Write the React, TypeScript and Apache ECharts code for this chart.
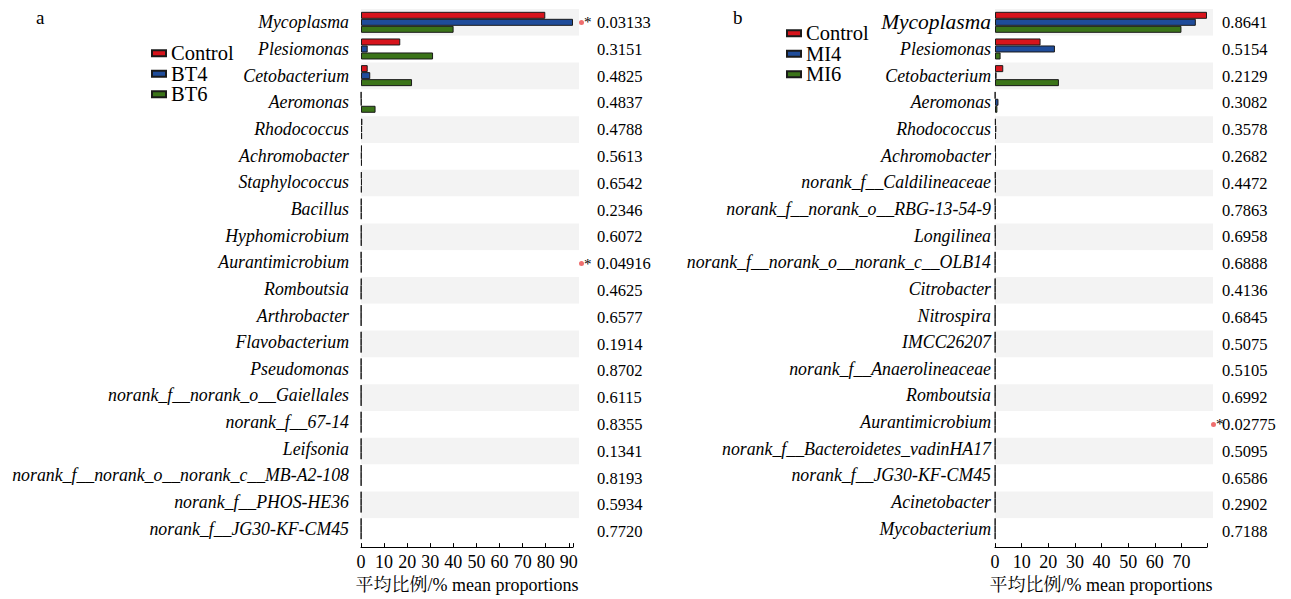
import React, { useEffect, useRef } from "react";
import * as echarts from "echarts";

const SERIF = "'Liberation Serif', 'Times New Roman', 'Noto Serif CJK SC', 'Noto Sans CJK SC', serif";

// ---------- Panel a ----------
const categoriesA = [
  "Mycoplasma", "Plesiomonas", "Cetobacterium", "Aeromonas", "Rhodococcus",
  "Achromobacter", "Staphylococcus", "Bacillus", "Hyphomicrobium", "Aurantimicrobium",
  "Romboutsia", "Arthrobacter", "Flavobacterium", "Pseudomonas", "norank_f__norank_o__Gaiellales",
  "norank_f__67-14", "Leifsonia", "norank_f__norank_o__norank_c__MB-A2-108", "norank_f__PHOS-HE36", "norank_f__JG30-KF-CM45",
];
const controlA = [79.8, 17.0, 2.9, 0.1, 0.6, 0.4, 0.3, 0.2, 0.2, 0.1, 0.2, 0.1, 0.1, 0.1, 0.1, 0.1, 0.1, 0.1, 0.1, 0.1];
const bt4A = [91.8, 2.9, 4.0, 0.2, 0.5, 0.3, 0.4, 0.2, 0.2, 0.2, 0.1, 0.1, 0.1, 0.1, 0.1, 0.1, 0.1, 0.1, 0.1, 0.1];
const bt6A = [40.1, 31.2, 22.1, 6.3, 0.5, 0.4, 0.3, 0.2, 0.2, 0.2, 0.1, 0.1, 0.1, 0.1, 0.1, 0.1, 0.1, 0.1, 0.1, 0.1];
const pValuesA = [
  "0.03133", "0.3151", "0.4825", "0.4837", "0.4788", "0.5613", "0.6542", "0.2346", "0.6072", "0.04916",
  "0.4625", "0.6577", "0.1914", "0.8702", "0.6115", "0.8355", "0.1341", "0.8193", "0.5934", "0.7720",
];
const seriesNamesA = ["Control", "BT4", "BT6"];
const xMaxA = 91.8;

// ---------- Panel b ----------
const categoriesB = [
  "Mycoplasma", "Plesiomonas", "Cetobacterium", "Aeromonas", "Rhodococcus",
  "Achromobacter", "norank_f__Caldilineaceae", "norank_f__norank_o__RBG-13-54-9", "Longilinea", "norank_f__norank_o__norank_c__OLB14",
  "Citrobacter", "Nitrospira", "IMCC26207", "norank_f__Anaerolineaceae", "Romboutsia",
  "Aurantimicrobium", "norank_f__Bacteroidetes_vadinHA17", "norank_f__JG30-KF-CM45", "Acinetobacter", "Mycobacterium",
];
const controlB = [79.6, 17.1, 3.1, 0.1, 0.3, 0.3, 0.2, 0.1, 0.1, 0.1, 0.1, 0.1, 0.1, 0.1, 0.1, 0.1, 0.1, 0.1, 0.1, 0.1];
const mi4B = [75.4, 22.5, 0.6, 1.3, 0.5, 0.4, 0.3, 0.2, 0.2, 0.1, 0.1, 0.1, 0.1, 0.1, 0.1, 0.1, 0.1, 0.1, 0.1, 0.1];
const mi6B = [70.0, 2.1, 24.0, 0.9, 0.4, 0.3, 0.3, 0.2, 0.2, 0.1, 0.1, 0.1, 0.1, 0.1, 0.1, 0.1, 0.1, 0.1, 0.1, 0.1];
const pValuesB = [
  "0.8641", "0.5154", "0.2129", "0.3082", "0.3578", "0.2682", "0.4472", "0.7863", "0.6958", "0.6888",
  "0.4136", "0.6845", "0.5075", "0.5105", "0.6992", "0.02775", "0.5095", "0.6586", "0.2902", "0.7188",
];
const seriesNamesB = ["Control", "MI4", "MI6"];
const xMaxB = 79.6;

const xTicks = 10;
const axisTitle = "平均比例/% mean proportions";
const colors = ["#d7141c", "#1f4c9a", "#3b7419"];

const TOP = 9;
const H = 536;

export default function App() {
  const ref = useRef<HTMLDivElement>(null);
  useEffect(() => {
    const chart = echarts.init(ref.current!, null, { renderer: "svg" });

    const isSig = (p: string) => parseFloat(p) < 0.05;

    const barSeries = (names: string[], data: number[][], axis: number) =>
      names.map((n, i) => ({
        type: "bar",
        name: n,
        xAxisIndex: axis,
        yAxisIndex: axis === 0 ? 0 : 4,
        data: data[i],
        barWidth: 7,
        barGap: "0%",
        itemStyle: { color: colors[i], borderColor: "#1a1a1a", borderWidth: 1 },
        z: 3,
      }));

    const valueAxis = (grid: number, max: number) => ({
      type: "value",
      gridIndex: grid,
      min: 0,
      max,
      interval: xTicks,
      offset: 5,
      axisLine: { show: true, lineStyle: { color: "#000", width: 1 } },
      axisTick: { show: true, inside: true, length: 4, lineStyle: { color: "#000" } },
      axisLabel: {
        show: true,
        margin: 6,
        fontSize: 18,
        fontFamily: SERIF,
        color: "#000",
        formatter: (v: number) => (Math.abs(v % 10) < 1e-6 ? String(v) : ""),
      },
      splitLine: { show: false },
      name: axisTitle,
      nameLocation: "middle",
      nameGap: 27,
      nameTextStyle: { fontSize: 18, fontFamily: SERIF, color: "#000" },
    });

    const hiddenX = (grid: number) => ({
      type: "value",
      gridIndex: grid,
      min: 0,
      max: 1,
      show: false,
    });

    const catAxis = (grid: number, cats: string[], margin: number, big: boolean) => ({
      type: "category",
      gridIndex: grid,
      data: cats,
      inverse: true,
      axisLine: { show: false },
      axisTick: { show: false },
      splitArea: { show: false },
      axisLabel: {
        margin,
        color: "#000",
        fontFamily: SERIF,
        fontStyle: "italic",
        fontSize: 17.8,
        formatter: big
          ? (v: string) => (v === "Mycoplasma" ? "{big|" + v + "}" : "{n|" + v + "}")
          : undefined,
        rich: big
          ? {
              big: { fontSize: 21.5, fontStyle: "italic", fontFamily: SERIF, color: "#000" },
              n: { fontSize: 17.8, fontStyle: "italic", fontFamily: SERIF, color: "#000" },
            }
          : undefined,
      },
    });

    const bandAxis = (grid: number, cats: string[]) => ({
      type: "category",
      gridIndex: grid,
      data: cats,
      inverse: true,
      axisLine: { show: false },
      axisTick: { show: false },
      axisLabel: { show: false },
      splitArea: { show: true, areaStyle: { color: ["#f3f3f3", "#ffffff"] } },
    });

    const pAxis = (grid: number, cats: string[], pvals: string[], margin: number) => ({
      type: "category",
      gridIndex: grid,
      position: "right",
      offset: 0,
      data: cats,
      inverse: true,
      axisLine: { show: false },
      axisTick: { show: false },
      splitArea: { show: false },
      axisLabel: {
        margin,
        align: "left",
        color: "#000",
        fontFamily: SERIF,
        fontSize: 16.5,
        formatter: (_v: string, i: number) => pvals[i],
      },
    });

    const markAxis = (grid: number, cats: string[], pvals: string[], margin: number) => ({
      type: "category",
      gridIndex: grid,
      position: "right",
      offset: 0,
      data: cats,
      inverse: true,
      axisLine: { show: false },
      axisTick: { show: false },
      splitArea: { show: false },
      axisLabel: {
        margin,
        align: "left",
        formatter: (_v: string, i: number) => (isSig(pvals[i]) ? "{dot|}{star|*}" : ""),
        rich: {
          dot: { width: 5, height: 5, borderRadius: 2.5, backgroundColor: "#ef6e6e" },
          star: { fontSize: 15, fontFamily: SERIF, color: "#000" },
        },
      },
    });

    const legendCommon = {
      orient: "vertical",
      icon: "rect",
      padding: 0,
      itemWidth: 14,
      itemHeight: 6,
      itemGap: 0,
      textStyle: { fontSize: 20.5, fontFamily: SERIF, color: "#000", lineHeight: 19.5 },
    };

    chart.setOption({
      animation: false,
      backgroundColor: "#fff",
      grid: [
        { left: 361, top: TOP, width: 212, height: H },
        { left: 361, top: TOP, width: 218, height: H },
        { left: 995, top: TOP, width: 212, height: H },
        { left: 995, top: TOP, width: 218, height: H },
      ],
      xAxis: [valueAxis(0, xMaxA), hiddenX(1), valueAxis(2, xMaxB), hiddenX(3)],
      yAxis: [
        catAxis(0, categoriesA, 12, false),
        bandAxis(1, categoriesA),
        pAxis(1, categoriesA, pValuesA, 18),
        markAxis(1, categoriesA, pValuesA, 0),
        catAxis(2, categoriesB, 4, true),
        bandAxis(3, categoriesB),
        pAxis(3, categoriesB, pValuesB, 9),
        markAxis(3, categoriesB, pValuesB, -2),
      ],
      legend: [
        { ...legendCommon, data: seriesNamesA, left: 151, top: 43 },
        { ...legendCommon, data: seriesNamesB, left: 786, top: 23 },
      ],
      graphic: [
        { type: "text", left: 36, top: 8, style: { text: "a", fontSize: 19, fontFamily: SERIF, fill: "#000" } },
        { type: "text", left: 733, top: 8, style: { text: "b", fontSize: 19, fontFamily: SERIF, fill: "#000" } },
      ],
      series: [
        ...barSeries(seriesNamesA, [controlA, bt4A, bt6A], 0),
        ...barSeries(seriesNamesB, [controlB, mi4B, mi6B], 2),
      ],
    });
    return () => chart.dispose();
  }, []);
  return <div ref={ref} style={{ position: "absolute", left: 0, top: 0, width: 1291, height: 599 }} />;
}
